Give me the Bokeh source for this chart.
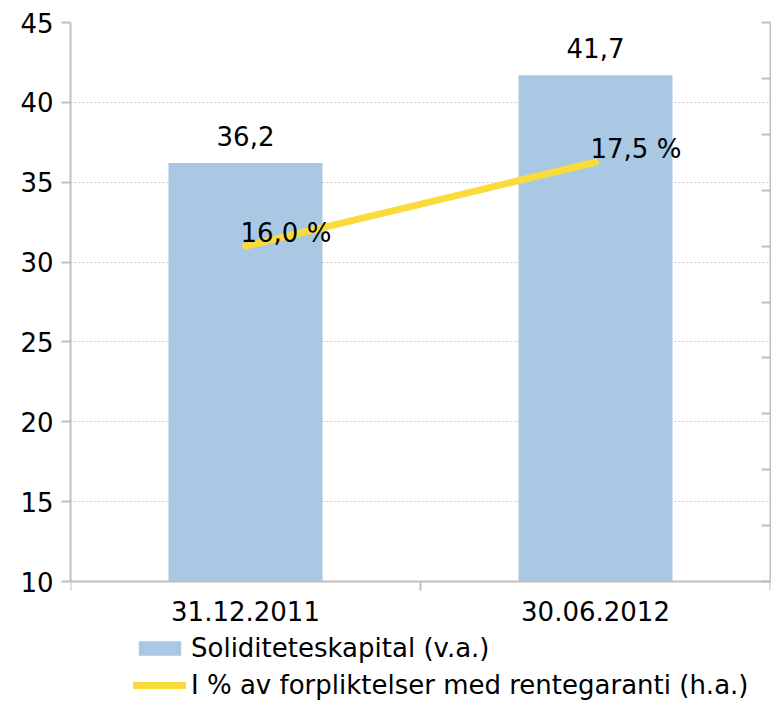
from bokeh.plotting import figure
from bokeh.models import (Range1d, LinearAxis, FixedTicker, ColumnDataSource,
                          Legend, LegendItem)
from bokeh.core.properties import value
from bokeh.embed import file_html
from bokeh.resources import INLINE

categories = ["31.12.2011", "30.06.2012"]
kapital = [36.2, 41.7]
andel = [16.0, 17.5]
left_ticks = [10, 15, 20, 25, 30, 35, 40, 45]
right_ticks = [10, 11, 12, 13, 14, 15, 16, 17, 18, 19, 20]

FONT = "DejaVu Sans"
FS = "26px"
AX = "#BFBFBF"
BAR = "#A9C8E4"
LINE = "#F9DC3C"

# axis spans; the frame is extended below the value axes to hold the legend
LEFT_MIN, LEFT_MAX = 10, 45
RIGHT_MIN, RIGHT_MAX = 10, 20
PLOT_H = 559          # pixel height of the value area
FRAME_H = 678         # value area + legend strip
extra = (FRAME_H - PLOT_H) / PLOT_H
left_lo = LEFT_MIN - (LEFT_MAX - LEFT_MIN) * extra
right_lo = RIGHT_MIN - (RIGHT_MAX - RIGHT_MIN) * extra

xpos = [i + 0.5 for i in range(len(categories))]
src = ColumnDataSource(dict(
    x=xpos, kap=kapital, andel=andel,
    kap_lbl=[f"{v:.1f}".replace(".", ",") for v in kapital],
    andel_lbl=[f"{v:.1f} %".replace(".", ",") for v in andel],
))

p = figure(frame_width=700, frame_height=FRAME_H, output_backend="svg",
           toolbar_location=None, x_range=Range1d(0, len(categories)),
           y_range=Range1d(left_lo, LEFT_MAX), min_border_left=70,
           min_border_top=22, min_border_right=1, min_border_bottom=0)
p.outline_line_color = None
p.extra_y_ranges = {"r": Range1d(right_lo, RIGHT_MAX)}

bars = p.vbar(x="x", top="kap", bottom=LEFT_MIN, width=0.44, source=src,
              fill_color=BAR, line_color=None)
ln = p.line(x="x", y="andel", y_range_name="r", source=src,
            line_color=LINE, line_width=7, line_cap="round")

p.text(x="x", y="kap", text="kap_lbl", source=src, text_align="center",
       text_baseline="bottom", y_offset=-17, text_font=value(FONT),
       text_font_size=FS, text_color="black")
p.text(x="x", y="andel", text="andel_lbl", source=src, y_range_name="r",
       text_align="left", text_baseline="bottom", x_offset=-5, y_offset=2,
       text_font=value(FONT), text_font_size=FS, text_color="black")

# x axis fixed at the bottom of the value axis; ticks at category borders
xa = p.xaxis[0]
xa.fixed_location = LEFT_MIN
xa.ticker = FixedTicker(ticks=xpos, minor_ticks=list(range(len(categories) + 1)))
xa.major_label_overrides = {x: c for x, c in zip(xpos, categories)}
xa.major_tick_out = 0
xa.major_tick_in = 0
xa.minor_tick_out = 9
xa.minor_tick_in = 0
xa.minor_tick_line_color = AX
xa.minor_tick_line_width = 2
xa.axis_line_color = AX
xa.axis_line_width = 2
xa.major_label_text_font = FONT
xa.major_label_text_font_size = FS
xa.major_label_text_color = "black"
xa.major_label_standoff = 10

ya = p.yaxis[0]
ya.bounds = (LEFT_MIN, LEFT_MAX)
ya.ticker = FixedTicker(ticks=left_ticks, minor_ticks=[])
ya.major_tick_out = 9
ya.major_tick_in = 0
ya.major_tick_line_color = AX
ya.major_tick_line_width = 2
ya.axis_line_color = AX
ya.axis_line_width = 2
ya.major_label_text_font = FONT
ya.major_label_text_font_size = FS
ya.major_label_text_color = "black"
ya.major_label_standoff = 8

# right axis: tick marks only (minor ticks carry no labels)
ra = LinearAxis(y_range_name="r", bounds=(RIGHT_MIN, RIGHT_MAX),
                ticker=FixedTicker(ticks=[], minor_ticks=right_ticks))
ra.minor_tick_in = 9
ra.minor_tick_out = 0
ra.minor_tick_line_color = AX
ra.minor_tick_line_width = 2
ra.major_tick_line_color = None
ra.axis_line_color = AX
ra.axis_line_width = 2
ra.major_label_standoff = 0
p.add_layout(ra, "right")

p.xgrid.visible = False
p.ygrid.ticker = FixedTicker(ticks=left_ticks[1:])
p.ygrid.grid_line_color = "#C8C8C8"
p.ygrid.grid_line_dash = "2 2"
p.ygrid.grid_line_width = 1

legend = Legend(items=[
    LegendItem(label="Soliditeteskapital (v.a.)", renderers=[bars]),
    LegendItem(label="I % av forpliktelser med rentegaranti (h.a.)", renderers=[ln]),
], location=(63, 0), orientation="vertical", border_line_color=None,
    background_fill_alpha=0, glyph_width=53, glyph_height=18,
    label_text_font=FONT, label_text_font_size=FS, label_height=30,
    label_text_color="black",
    label_standoff=5, spacing=7, padding=0, margin=0)
p.add_layout(legend, "center")

open("out.html", "w").write(file_html(p, INLINE))
